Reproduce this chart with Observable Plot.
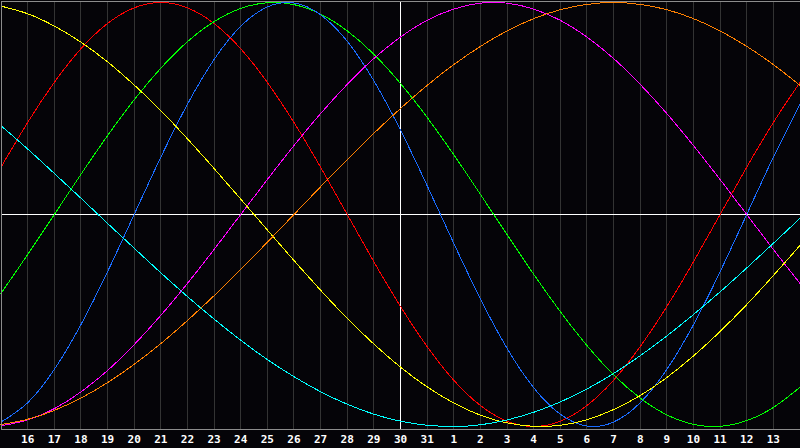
<!DOCTYPE html>
<html><head><meta charset="utf-8">
<script src="https://cdn.jsdelivr.net/npm/d3@7"></script>
<script src="https://cdn.jsdelivr.net/npm/@observablehq/plot@0.6"></script>
<style>
html,body{margin:0;padding:0;background:#050408;overflow:hidden}
#chart svg text{font-weight:bold}
</style>
</head><body><div id="chart"></div>
<script>
// day index 0..30 (left edge = 15th, right edge = 14th of next month)
const dates = ["15","16","17","18","19","20","21","22","23","24","25","26","27","28","29","30","31",
               "1","2","3","4","5","6","7","8","9","10","11","12","13","14"];
const tickDays = [1,2,3,4,5,6,7,8,9,10,11,12,13,14,15,16,17,18,19,20,21,22,23,24,25,26,27,28,29];
const gridDays = [1,2,3,4,5,6,7,8,9,10,11,12,13,14,16,17,18,19,20,21,22,23,24,25,26,27,28,29];
const todayIndex = 15;

const physical = [-0.979,-0.888,-0.731,-0.520,-0.270,0,0.270,0.520,0.731,0.888,0.979,0.998,0.942,0.817,0.631,0.398,0.136,-0.136,-0.398,-0.631,-0.817,-0.942,-0.998,-0.979,-0.888,-0.731,-0.520,-0.270,0,0.270,0.520];
const emotional = [0.223,0.434,0.623,0.782,0.901,0.975,1,0.975,0.901,0.782,0.623,0.434,0.223,0,-0.223,-0.434,-0.623,-0.782,-0.901,-0.975,-1,-0.975,-0.901,-0.782,-0.623,-0.434,-0.223,0,0.223,0.434,0.623];
const intellectual = [-0.372,-0.189,0,0.189,0.372,0.541,0.690,0.815,0.910,0.972,0.999,0.990,0.945,0.866,0.756,0.618,0.458,0.282,0.095,-0.095,-0.282,-0.458,-0.618,-0.756,-0.866,-0.945,-0.990,-0.999,-0.972,-0.910,-0.815];
const intuitive = [-0.997,-0.969,-0.916,-0.837,-0.736,-0.614,-0.476,-0.325,-0.165,0,0.165,0.325,0.476,0.614,0.736,0.837,0.916,0.969,0.997,0.997,0.969,0.916,0.837,0.736,0.614,0.476,0.325,0.165,0,-0.165,-0.325];
const aesthetic = [0.983,0.947,0.889,0.813,0.720,0.611,0.490,0.357,0.217,0.073,-0.073,-0.217,-0.357,-0.490,-0.611,-0.720,-0.813,-0.889,-0.947,-0.983,-0.999,-0.994,-0.968,-0.920,-0.854,-0.769,-0.667,-0.552,-0.425,-0.288,-0.146];
const awareness = [-0.991,-0.966,-0.924,-0.866,-0.793,-0.707,-0.609,-0.500,-0.383,-0.259,-0.131,0,0.131,0.259,0.383,0.500,0.609,0.707,0.793,0.866,0.924,0.966,0.991,1,0.991,0.966,0.924,0.866,0.793,0.707,0.609];
const spiritual = [0.419,0.309,0.194,0.077,-0.042,-0.159,-0.275,-0.387,-0.493,-0.593,-0.684,-0.765,-0.836,-0.895,-0.942,-0.975,-0.994,-1.000,-0.992,-0.969,-0.933,-0.884,-0.823,-0.750,-0.666,-0.573,-0.472,-0.365,-0.252,-0.136,-0.018];

const seriesNames = ["Emotional","Intellectual","Physical","Intuitive","Aesthetic","Awareness","Spiritual"];
const seriesValues = [emotional, intellectual, physical, intuitive, aesthetic, awareness, spiritual];
const seriesColors = ["#ff0000","#00ff00","#1a6cff","#ff00ff","#ffff00","#ff8000","#00ffff"];

const lineMarks = seriesNames.map((name, k) =>
  Plot.line(seriesValues[k].map((v, i) => ({t: i, v, name})),
    {x: "t", y: "v", stroke: seriesColors[k], strokeWidth: 1, curve: "natural", shapeRendering: "crispEdges"})
);

const chart = Plot.plot({
  width: 800, height: 448,
  marginLeft: 0.5, marginRight: 0.5, marginTop: 0.5, marginBottom: 19.5,
  style: {background: "#050408", color: "#ffffff", fontFamily: "DejaVu Sans Mono", fontSize: "11px"},
  x: {domain: [0, 30], axis: null, label: null},
  y: {domain: [-1.0118, 1.0071], axis: null},
  marks: [
    Plot.ruleX(gridDays, {stroke: "#333333", shapeRendering: "crispEdges"}),
    Plot.ruleX([todayIndex], {stroke: "#ffffff", shapeRendering: "crispEdges"}),
    Plot.ruleY([0], {stroke: "#ffffff", shapeRendering: "crispEdges"}),
    ...lineMarks,
    Plot.frame({stroke: "#8c8c8c", shapeRendering: "crispEdges"}),
    Plot.axisX({ticks: tickDays, tickFormat: t => dates[t], tickSize: 0, tickPadding: 6, fill: "#ffffff", label: null})
  ]
});
document.getElementById("chart").appendChild(chart);
</script>
</body></html>
